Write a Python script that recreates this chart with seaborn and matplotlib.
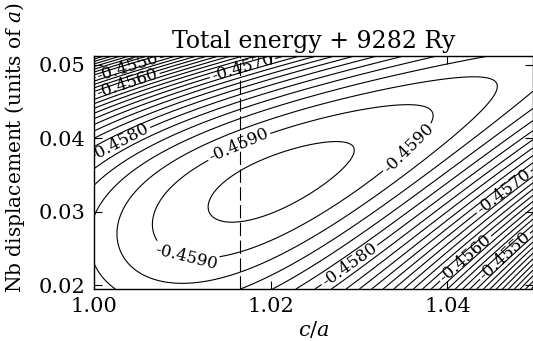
import numpy as np
import matplotlib
matplotlib.use("Agg")
import matplotlib.pyplot as plt
import seaborn as sns

# ---- axes, ticks, text -------------------------------------------------
x_range = (1.00, 1.0497)
y_range = (0.0195, 0.0512)
x_ticks = [1.00, 1.02, 1.04]
x_ticklabels = ["1.00", "1.02", "1.04"]
y_ticks = [0.02, 0.03, 0.04, 0.05]
y_ticklabels = ["0.02", "0.03", "0.04", "0.05"]
title = "Total energy + 9282 Ry"
xlabel = r"$c/a$"
ylabel = r"Nb displacement (units of $a$)"

# ---- energy surface (parameters) ---------------------------------------
e_min = -0.45928            # Ry (+9282) at the minimum
ca_min = 1.02073            # c/a at the minimum
disp_min = 0.03408          # displacement at the minimum
valley_angle_deg = 24.0     # tilt of the valley on the plot
along_curv = 1.29e-8        # curvature along the valley (per plot px^2)
along_cubic = -0.0015       # softening along the valley
across_curv = 1.15e-7       # curvature across the valley
across_growth = 0.0028      # growth of the cross curvature along the valley
upper_quartic_len = 140.0   # stiffening on the large-displacement side
lower_linear_len = 150.0    # flattening on the small-displacement side
px_per_ca = 8875.0          # plot px per unit c/a
px_per_disp = 7350.0        # plot px per unit displacement

plain_levels = [-0.4592, -0.4588, -0.4586, -0.4584, -0.4582,
                -0.4578, -0.4576, -0.4574, -0.4572, -0.4568, -0.4566,
                -0.4564, -0.4562, -0.4558, -0.4556, -0.4554, -0.4552,
                -0.4548, -0.4546, -0.4544, -0.4542, -0.4540, -0.4538,
                -0.4536, -0.4534, -0.4532, -0.4530, -0.4528, -0.4526]
labelled_levels = [-0.4590, -0.4580, -0.4570, -0.4560, -0.4550]
label_spots = [(1.0165, 0.0387), (1.0350, 0.0394), (1.0103, 0.0232),
               (1.0034, 0.0383), (1.0289, 0.0228), (1.0040, 0.0466),
               (1.0040, 0.0490), (1.0168, 0.0496), (1.0424, 0.0232),
               (1.0462, 0.0330), (1.0468, 0.0236)]
ca_reference = 1.0165       # dashed vertical line

# ---- build the field ---------------------------------------------------
xs = np.linspace(x_range[0], x_range[1], 600)
ys = np.linspace(y_range[0], y_range[1], 450)
X, Y = np.meshgrid(xs, ys)
p = (X - ca_min) * px_per_ca
q = (Y - disp_min) * px_per_disp
th = np.radians(valley_angle_deg)
s = p * np.cos(th) + q * np.sin(th)
t = -p * np.sin(th) + q * np.cos(th)
upper = t**2 + t**4 / (2 * upper_quartic_len**2)
lower = 2 * lower_linear_len**2 * (np.sqrt(1 + (t / lower_linear_len)**2) - 1)
cross = np.where(t > 0, upper, lower)
E = (e_min + along_curv * s**2 * (1 + along_cubic * s)
     + across_curv * np.exp(across_growth * s) * cross)

# ---- draw ---------------------------------------------------------------
sns.set_theme(style="ticks")
plt.rcParams["font.family"] = ["DejaVu Serif"]
plt.rcParams["mathtext.fontset"] = "dejavuserif"
plt.rcParams["contour.negative_linestyle"] = "solid"

fig = plt.figure(figsize=(5.33, 3.41), dpi=100)
fig.patch.set_facecolor("white")
ax = fig.add_axes([94 / 533, 1 - 289 / 341, (533 - 94) / 533, (289 - 56) / 341])
ax.set_facecolor("white")

ax.contour(X, Y, E, levels=plain_levels, colors="black", linewidths=0.8,
           linestyles="solid")
cs = ax.contour(X, Y, E, levels=labelled_levels, colors="black",
                linewidths=0.8, linestyles="solid")
ax.clabel(cs, fmt="%.4f", fontsize=12, inline=True, inline_spacing=2,
          manual=label_spots)

ax.axvline(ca_reference, color="black", lw=0.8, ls=(0, (12, 4)))

ax.set_xlim(*x_range)
ax.set_ylim(*y_range)
ax.set_xticks(x_ticks)
ax.set_xticklabels(x_ticklabels)
ax.set_yticks(y_ticks)
ax.set_yticklabels(y_ticklabels)
ax.tick_params(direction="in", length=6, width=0.8, top=True, right=True,
               labelsize=15, colors="black", pad=6)
for sp in ax.spines.values():
    sp.set_color("black")
    sp.set_linewidth(1.0)

ax.set_title(title, fontsize=17, pad=6, color="black")
ax.set_xlabel(xlabel, fontsize=15, color="black", labelpad=2)
fig.text(15 / 533, 1 - 148 / 341, ylabel, rotation=90, fontsize=14.5,
         ha="center", va="center", color="black")

fig.savefig("out.png", dpi=100, facecolor="white")
